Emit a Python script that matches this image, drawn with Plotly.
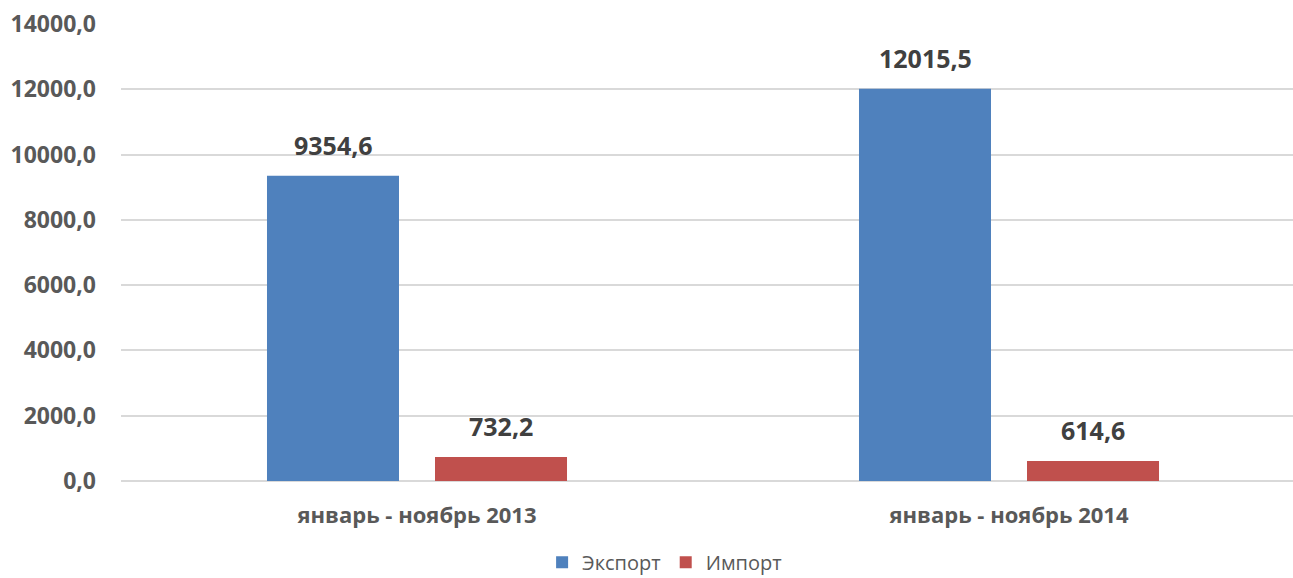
import plotly.graph_objects as go

categories = ["январь - ноябрь 2013", "январь - ноябрь 2014"]
export_values = [9354.6, 12015.5]
import_values = [732.2, 614.6]
series_names = ["Экспорт", "Импорт"]
y_ticks = [0, 2000, 4000, 6000, 8000, 10000, 12000, 14000]

colors = ["#4F81BD", "#C0504D"]
bar_width = 0.223
offsets = [-0.2534, 0.0304]

W, H = 1293, 578
L, T, B = 121, 24, 97
px_per_unit = 592

fig = go.Figure()
xs = list(range(len(categories)))
for name, vals, col, off in zip(series_names, [export_values, import_values], colors, offsets):
    fig.add_trace(go.Bar(
        x=xs, y=vals, name=name, marker=dict(color=col, line=dict(width=0)),
        width=bar_width, offset=off,
    ))
    for xi, v in zip(xs, vals):
        fig.add_annotation(
            x=xi + off + bar_width / 2, y=v, xref="x", yref="y",
            text=f"{v:.1f}".replace(".", ","), showarrow=False,
            yanchor="bottom", yshift=12,
            font=dict(family="Open Sans", size=25, color="#404040", weight="bold"),
        )

fig.update_layout(
    width=W, height=H,
    margin=dict(l=L, r=0, t=T, b=B, autoexpand=False),
    plot_bgcolor="white", paper_bgcolor="white",
    separators=", ",
    showlegend=True,
    legend=dict(
        orientation="h", xref="container", yref="paper",
        x=0.514, xanchor="center", y=-0.178, yanchor="middle",
        font=dict(family="Open Sans", size=20, color="#595959"),
        itemwidth=30,
    ),
    xaxis=dict(
        tickmode="array", tickvals=xs, ticktext=categories,
        range=[-0.5, -0.5 + (W - L) / px_per_unit], automargin=False,
        showgrid=False, zeroline=False, showline=False,
        ticks="", ticklabelstandoff=19,
        tickfont=dict(family="Open Sans", size=22, color="#595959", weight="bold"),
    ),
    yaxis=dict(
        range=[0, 14000], tickvals=y_ticks, tickformat=".1f", automargin=False,
        showgrid=True, gridcolor="#D9D9D9", gridwidth=1.5,
        zeroline=True, zerolinecolor="#D9D9D9", zerolinewidth=1.5,
        showline=False, ticks="", ticklabelstandoff=24,
        tickfont=dict(family="Open Sans", size=23, color="#595959", weight="bold"),
    ),
)

fig.write_html(
    "out.html",
    config={"displayModeBar": False},
    post_script="document.body.style.margin='0';document.body.style.overflow='hidden';",
)
